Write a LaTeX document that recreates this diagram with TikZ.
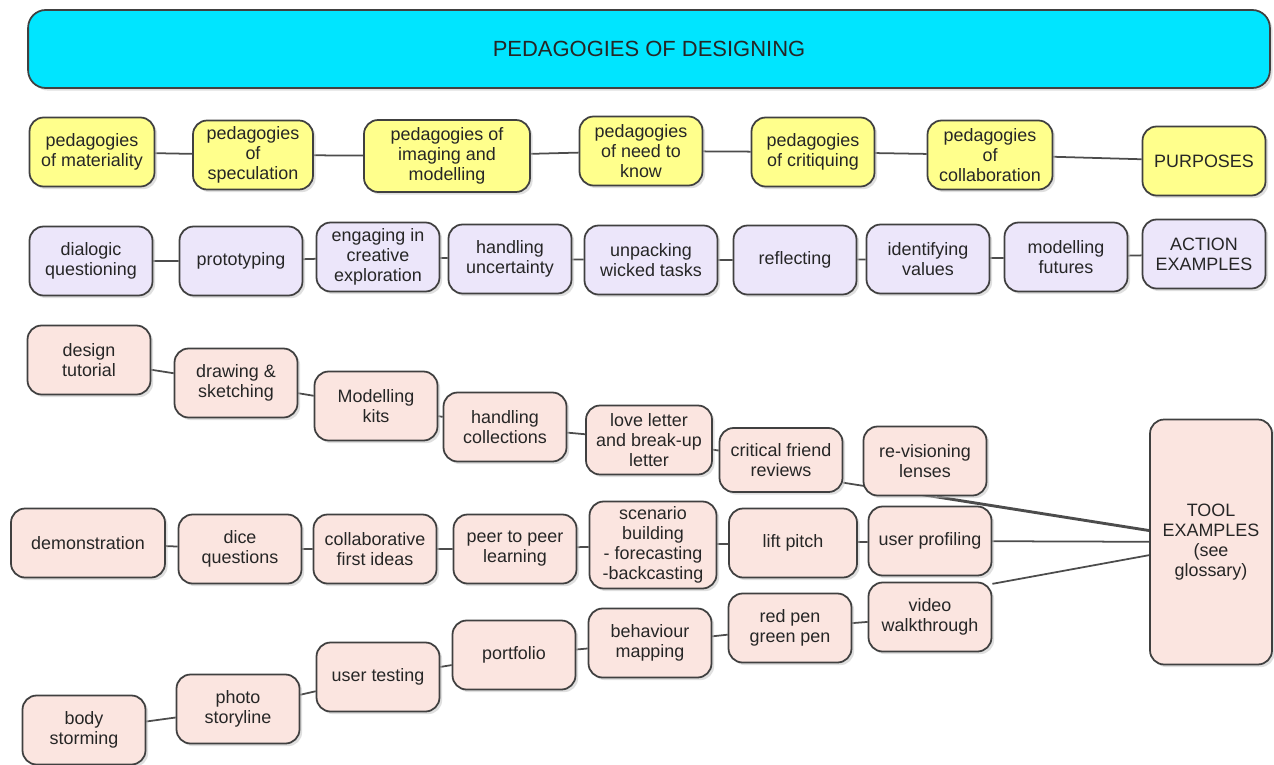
\documentclass[tikz,border=0pt]{standalone}
\usepackage{fontspec}
\setmainfont{Liberation Sans}
\usetikzlibrary{
    backgrounds,
    shadows
}
\definecolor{headcyan}{RGB}{0,229,255}
\definecolor{purpyellow}{RGB}{255,255,140}
\definecolor{actlilac}{RGB}{236,230,250}
\definecolor{toolpink}{RGB}{251,229,224}
\tikzset{
    box/.style={draw=black!75, line width=1pt, rounded corners=8pt, align=center,
        minimum width=2.46cm, minimum height=1.38cm, inner sep=1pt, text=black!85,
        font=\fontsize{10.2}{11.4}\selectfont,
        drop shadow={shadow xshift=1.5pt, shadow yshift=-1.5pt, fill=black!25}},
    purpose/.style={box, fill=purpyellow},
    action/.style={box, fill=actlilac},
    tool/.style={box, fill=toolpink},
    link/.style={draw=black!70, line width=1pt}
}

\begin{document}
\begin{tikzpicture}[x=0.02cm, y=-0.02cm]
                        \useasboundingbox (0, 0) rectangle (1274, 764);
                        \node[box, fill=headcyan, rounded corners=10pt, minimum width=24.84cm,
                            minimum height=1.56cm, font=\fontsize{12.5}{14}\selectfont]
                            (head) at (649, 49) {PEDAGOGIES OF DESIGNING};
                        % purposes
                        \node[purpose, minimum width=2.5cm] (mat) at (92, 152) {pedagogies\\of materiality};
                        \node[purpose, minimum width=2.4cm] (spec) at (253, 155) {pedagogies\\of\\speculation};
                        \node[purpose, minimum width=3.32cm, minimum height=1.44cm] (img) at (447, 156) {pedagogies of\\imaging and\\modelling};
                        \node[purpose] (need) at (641, 151) {pedagogies\\of need to\\know};
                        \node[purpose] (crit) at (813, 152) {pedagogies\\of critiquing};
                        \node[purpose, minimum width=2.5cm] (coll) at (990, 155) {pedagogies\\of\\collaboration};
                        \node[purpose] (purp) at (1204, 161) {PURPOSES};
                        % actions
                        \node[action] (dial) at (91, 261) {dialogic\\questioning};
                        \node[action] (proto) at (241, 261) {prototyping};
                        \node[action] (eng) at (378, 257) {engaging in\\creative\\exploration};
                        \node[action] (unc) at (510, 259) {handling\\uncertainty};
                        \node[action, minimum width=2.66cm] (wick) at (651, 260) {unpacking\\wicked tasks};
                        \node[action] (refl) at (795, 260) {reflecting};
                        \node[action] (val) at (928, 259) {identifying\\values};
                        \node[action] (fut) at (1066, 257) {modelling\\futures};
                        \node[action] (act) at (1204, 254) {ACTION\\EXAMPLES};
                        % tools
                        \node[tool] (tut) at (89, 360) {design\\tutorial};
                        \node[tool] (sketch) at (236, 383) {drawing \&\\sketching};
                        \node[tool] (kits) at (376, 406) {Modelling\\kits};
                        \node[tool] (colls) at (505, 427) {handling\\collections};
                        \node[tool, minimum width=2.52cm] (love) at (649, 440) {love letter\\and break-up\\letter};
                        \node[tool, minimum height=1.28cm] (friend) at (781, 460) {critical friend\\reviews};
                        \node[tool] (lens) at (925, 461) {re-visioning\\lenses};
                        \node[tool, minimum width=2.44cm, minimum height=4.9cm] (toolx) at (1211, 542) {TOOL\\EXAMPLES\\(see\\glossary)};
                        \node[tool, minimum width=3.08cm] (demo) at (88, 543) {demonstration};
                        \node[tool] (dice) at (240, 549) {dice\\questions};
                        \node[tool] (first) at (375, 549) {collaborative\\first ideas};
                        \node[tool] (peer) at (515, 549) {peer to peer\\learning};
                        \node[tool, minimum width=2.54cm, minimum height=1.74cm] (scen) at (653, 545) {scenario\\building\\- forecasting\\-backcasting};
                        \node[tool, minimum width=2.56cm] (lift) at (793, 543) {lift pitch};
                        \node[tool] (prof) at (930, 541) {user profiling};
                        \node[tool] (body) at (84, 730) {body\\storming};
                        \node[tool] (photo) at (238, 709) {photo\\storyline};
                        \node[tool] (test) at (378, 677) {user testing};
                        \node[tool] (port) at (514, 655) {portfolio};
                        \node[tool] (behav) at (650, 643) {behaviour\\mapping};
                        \node[tool] (pen) at (790, 628) {red pen\\green pen};
                        \node[tool] (video) at (930, 617) {video\\walkthrough};
                        \begin{scope}[on background layer]
                            \draw[link]
                            (mat) -- (spec) -- (img) -- (need) -- (crit) -- (coll) -- (purp)
                            (dial) -- (proto) -- (eng) -- (unc) -- (wick) -- (refl) -- (val) -- (fut) -- (act)
                            (tut) -- (sketch) -- (kits) -- (colls) -- (love) -- (friend)
                            (friend.-20) -- (toolx.170)
                            (lens.-71) -- (toolx.169)
                            (demo) -- (dice) -- (first) -- (peer) -- (scen) -- (lift) -- (prof) -- (toolx)
                            (body) -- (photo) -- (test) -- (port) -- (behav) -- (pen) -- (video)
                            (video.28) -- (toolx.192);
                        \end{scope}
                    \end{tikzpicture}
\end{document}
